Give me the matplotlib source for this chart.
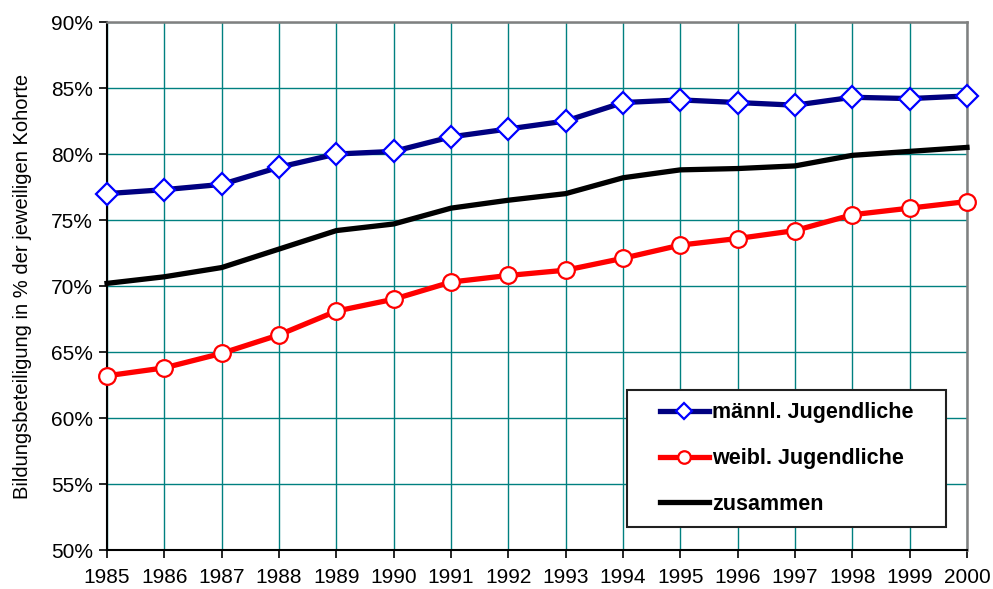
import matplotlib
matplotlib.use("Agg")
import matplotlib.pyplot as plt
from matplotlib.ticker import FuncFormatter
from matplotlib.patches import Rectangle

plt.rcParams['font.family'] = ['Liberation Sans', 'DejaVu Sans']

years = list(range(1985, 2001))
maennlich = [77.0, 77.3, 77.7, 79.0, 80.0, 80.2, 81.3, 81.9, 82.5, 83.9, 84.1, 83.9, 83.7, 84.3, 84.2, 84.4]
weiblich = [63.2, 63.8, 64.9, 66.3, 68.1, 69.0, 70.3, 70.8, 71.2, 72.1, 73.1, 73.6, 74.2, 75.4, 75.9, 76.4]
zusammen = [70.2, 70.7, 71.4, 72.8, 74.2, 74.7, 75.9, 76.5, 77.0, 78.2, 78.8, 78.9, 79.1, 79.9, 80.2, 80.5]

fig = plt.figure(figsize=(9.93, 5.89), dpi=100)
ax = fig.add_axes([0.1078, 0.0662, 0.866, 0.8964])

ax.plot(years, maennlich, color='#000080', lw=3.8, marker='D', ms=11,
        mfc='white', mec='#0000FF', mew=1.6, label='männl. Jugendliche', zorder=4, clip_on=False)
ax.plot(years, weiblich, color='#FF0000', lw=3.8, marker='o', ms=12,
        mfc='white', mec='#FF0000', mew=1.6, label='weibl. Jugendliche', zorder=4, clip_on=False)
ax.plot(years, zusammen, color='black', lw=3.8, label='zusammen', zorder=3, clip_on=False)

ax.set_xlim(1985, 2000)
ax.set_ylim(50, 90)
ax.set_xticks(years)
ax.set_yticks(range(50, 91, 5))
ax.yaxis.set_major_formatter(FuncFormatter(lambda v, p: '%d%%' % v))
ax.grid(True, color='#008080', lw=1.0)
ax.set_axisbelow(True)
ax.tick_params(direction='out', length=6, width=1.2, labelsize=15, pad=4)
ax.tick_params(axis='x', pad=7)

ax.spines['left'].set_linewidth(1.5)
ax.spines['bottom'].set_linewidth(1.5)
ax.spines['top'].set_color('#808080')
ax.spines['right'].set_color('#808080')
ax.spines['top'].set_linewidth(1.8)
ax.spines['right'].set_linewidth(1.8)

ax.set_ylabel('Bildungsbeteiligung in % der jeweiligen Kohorte', fontsize=14.5, labelpad=14)

# legend frame drawn separately so the padding matches the original box
box = Rectangle((0.605, 0.0436), 0.371, 0.259, transform=ax.transAxes,
                facecolor='white', edgecolor='#202020', lw=1.5, zorder=5)
ax.add_patch(box)
leg = ax.legend(loc='center', bbox_to_anchor=(0.605 + 0.371 / 2, 0.0436 + 0.259 / 2),
                prop={'weight': 'bold', 'size': 15.5}, handlelength=2.3, handletextpad=0.15,
                borderpad=0.0, labelspacing=1.15, frameon=False, markerscale=0.75)
leg.set_zorder(6)

fig.savefig('out.png', dpi=100)
